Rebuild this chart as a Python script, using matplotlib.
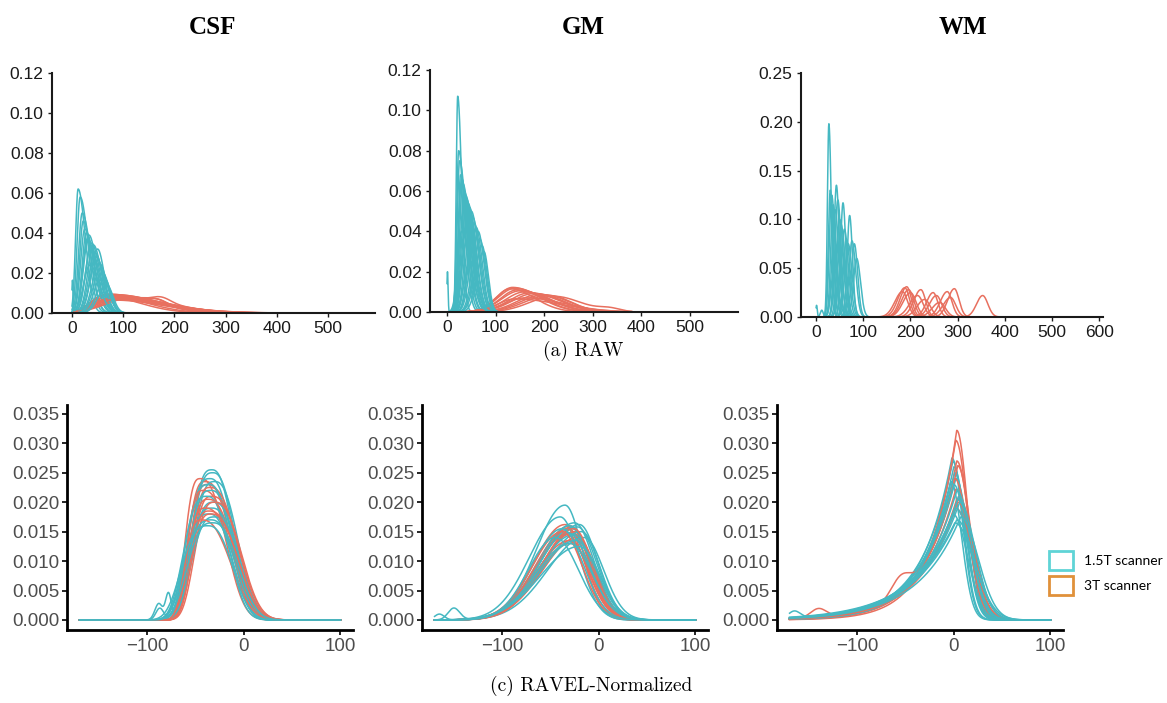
import numpy as np
import matplotlib
matplotlib.use("Agg")
import matplotlib.pyplot as plt
from matplotlib.patches import Patch
from matplotlib.ticker import FormatStrFormatter

# colours of the two scanner groups
c15 = "#45B8C2"
c3 = "#E8705F"

# ---- values: one entry per density curve ----
# peak position (mu), peak height (h), left / right spread (sl, sr)
# extra small bumps: curve index (bi), position (bx), height (bh), width (bw)

# (a) RAW, CSF
csf_raw_c_mu = [12, 16, 20, 22, 25, 28, 30, 33, 36, 38, 42, 45, 48, 50, 53, 56, 60, 64, 68, 35]
csf_raw_c_h = [0.062, 0.058, 0.050, 0.046, 0.042, 0.040, 0.037, 0.039, 0.033, 0.035,
               0.034, 0.030, 0.028, 0.032, 0.025, 0.022, 0.020, 0.017, 0.014, 0.024]
csf_raw_c_sl = [5, 6, 7, 7, 8, 8, 9, 10, 10, 11, 11, 12, 12, 13, 13, 14, 15, 15, 16, 12]
csf_raw_c_sr = [14, 15, 16, 15, 17, 16, 18, 15, 17, 16, 15, 16, 14, 13, 15, 14, 13, 12, 12, 18]
csf_raw_c_bi, csf_raw_c_bx, csf_raw_c_bh, csf_raw_c_bw = [19], [1], [0.016], [1.2]

csf_raw_s_mu = [60, 65, 70, 75, 80, 85, 90, 95, 100, 70, 80, 90, 110, 75]
csf_raw_s_h = [0.0085, 0.009, 0.0095, 0.0088, 0.0092, 0.0085, 0.009, 0.0082, 0.0078,
               0.007, 0.0075, 0.0068, 0.0072, 0.0065]
csf_raw_s_sl = [25, 28, 30, 32, 35, 35, 38, 40, 40, 30, 32, 35, 45, 30]
csf_raw_s_sr = [70, 75, 80, 85, 90, 80, 75, 85, 90, 95, 100, 100, 85, 110]
csf_raw_s_bi, csf_raw_s_bx, csf_raw_s_bh, csf_raw_s_bw = [2, 5, 8], [170, 165, 175], [0.0025, 0.002, 0.0025], [18, 20, 18]

# (a) RAW, GM
gm_raw_c_mu = [22, 24, 26, 28, 30, 32, 35, 38, 40, 43, 46, 50, 53, 56, 60, 64, 68, 72, 76, 30, 40, 48]
gm_raw_c_h = [0.107, 0.080, 0.075, 0.068, 0.066, 0.064, 0.060, 0.058, 0.056, 0.054, 0.052,
              0.050, 0.047, 0.044, 0.042, 0.040, 0.036, 0.033, 0.030, 0.040, 0.035, 0.025]
gm_raw_c_sl = [3, 4, 5, 5, 6, 6, 7, 8, 8, 9, 9, 10, 10, 11, 12, 12, 13, 14, 14, 8, 10, 12]
gm_raw_c_sr = [8, 12, 13, 14, 14, 15, 15, 15, 15, 15, 14, 14, 13, 13, 12, 12, 11, 10, 9, 18, 16, 14]
gm_raw_c_bi, gm_raw_c_bx, gm_raw_c_bh, gm_raw_c_bw = [21], [1], [0.020], [1.2]

gm_raw_s_mu = [130, 135, 140, 145, 150, 160, 170, 180, 190, 200, 210, 220, 160, 140]
gm_raw_s_h = [0.0115, 0.0122, 0.0118, 0.011, 0.0105, 0.010, 0.0095, 0.0092, 0.0088,
              0.0085, 0.0082, 0.0078, 0.007, 0.0065]
gm_raw_s_sl = [30, 32, 35, 35, 38, 40, 42, 45, 45, 48, 50, 50, 40, 35]
gm_raw_s_sr = [50, 55, 55, 60, 60, 55, 60, 55, 50, 50, 45, 55, 80, 90]
gm_raw_s_bi, gm_raw_s_bx, gm_raw_s_bh, gm_raw_s_bw = [11], [335], [0.0015], [22]

# (a) RAW, WM
wm_raw_c_mu = [27, 30, 33, 36, 40, 43, 46, 50, 53, 57, 60, 64, 68, 71, 76, 81, 86, 45, 55, 38]
wm_raw_c_h = [0.198, 0.13, 0.125, 0.115, 0.11, 0.135, 0.12, 0.10, 0.095, 0.117, 0.09,
              0.08, 0.075, 0.104, 0.078, 0.075, 0.06, 0.07, 0.065, 0.05]
wm_raw_c_sl = [3, 4, 5, 5, 6, 5, 6, 6, 6, 5, 6, 6, 7, 5, 6, 6, 7, 6, 7, 6]
wm_raw_c_sr = [5, 6, 7, 7, 8, 6, 7, 8, 8, 6, 8, 8, 8, 6, 8, 7, 8, 9, 9, 9]
wm_raw_c_bi, wm_raw_c_bx, wm_raw_c_bh, wm_raw_c_bw = [19, 18], [1, 12], [0.012, 0.007], [1.5, 3]

wm_raw_s_mu = [183, 188, 192, 196, 200, 215, 222, 230, 248, 255, 262, 278, 285, 293, 353]
wm_raw_s_h = [0.026, 0.030, 0.031, 0.028, 0.025, 0.022, 0.028, 0.018, 0.025, 0.022,
              0.015, 0.026, 0.020, 0.029, 0.022]
wm_raw_s_sl = [16, 15, 14, 15, 16, 17, 15, 16, 14, 15, 16, 15, 16, 14, 13]
wm_raw_s_sr = [11, 10, 10, 11, 12, 12, 10, 12, 10, 11, 12, 10, 11, 10, 11]
wm_raw_s_bi, wm_raw_s_bx, wm_raw_s_bh, wm_raw_s_bw = [], [], [], []

# (c) RAVEL-Normalized, CSF
csf_rv_c_mu = [-33, -32, -35, -30, -36, -34, -38, -31, -33, -36, -30, -34, -32, -37]
csf_rv_c_h = [0.0255, 0.025, 0.024, 0.0235, 0.023, 0.022, 0.021, 0.020, 0.019, 0.018,
              0.0175, 0.017, 0.0165, 0.016]
csf_rv_c_sl = [20, 21, 22, 21, 23, 22, 23, 22, 23, 24, 23, 25, 25, 26]
csf_rv_c_sr = [21, 22, 22, 23, 22, 23, 22, 24, 24, 23, 25, 24, 25, 24]
csf_rv_c_bi, csf_rv_c_bx, csf_rv_c_bh, csf_rv_c_bw = [3, 3, 5], [-88, -78, -87], [0.0028, 0.0045, 0.002], [4, 3, 4]

csf_rv_s_mu = [-45, -40, -38, -35, -42, -33, -37, -30, -40, -36, -34, -44]
csf_rv_s_h = [0.024, 0.0235, 0.023, 0.0225, 0.022, 0.021, 0.0205, 0.020, 0.019, 0.0185, 0.018, 0.017]
csf_rv_s_sl = [15, 17, 17, 18, 16, 19, 18, 20, 17, 18, 19, 16]
csf_rv_s_sr = [25, 26, 27, 27, 27, 27, 26, 26, 28, 28, 27, 29]
csf_rv_s_bi, csf_rv_s_bx, csf_rv_s_bh, csf_rv_s_bw = [], [], [], []

# (c) RAVEL-Normalized, GM
gm_rv_c_mu = [-35, -40, -25, -20, -30, -22, -28, -18, -32, -26, -15, -38, -24, -30, -20, -45]
gm_rv_c_h = [0.0195, 0.0175, 0.0165, 0.0162, 0.016, 0.0158, 0.0155, 0.015, 0.0148,
             0.0145, 0.014, 0.0155, 0.0135, 0.013, 0.0125, 0.014]
gm_rv_c_sl = [30, 32, 35, 36, 33, 35, 34, 38, 32, 36, 38, 30, 37, 35, 40, 28]
gm_rv_c_sr = [18, 20, 20, 19, 21, 20, 22, 19, 23, 21, 20, 22, 22, 23, 21, 24]
gm_rv_c_bi, gm_rv_c_bx, gm_rv_c_bh, gm_rv_c_bw = [4, 9], [-165, -150], [0.001, 0.002], [5, 6]

gm_rv_s_mu = [-35, -30, -28, -32, -25, -27, -33, -22, -30, -29, -26, -38]
gm_rv_s_h = [0.0162, 0.016, 0.0158, 0.0155, 0.015, 0.0148, 0.0145, 0.014, 0.0135, 0.013, 0.0155, 0.015]
gm_rv_s_sl = [32, 33, 34, 33, 35, 34, 33, 36, 35, 34, 33, 31]
gm_rv_s_sr = [20, 20, 19, 21, 19, 20, 21, 19, 20, 21, 20, 21]
gm_rv_s_bi, gm_rv_s_bx, gm_rv_s_bh, gm_rv_s_bw = [], [], [], []

# (c) RAVEL-Normalized, WM
wm_rv_c_mu = [-2, -1, 0, 1, 2, -3, 0, 3, 5, 4, 6, 2, -1, 7, 3, 1]
wm_rv_c_h = [0.0275, 0.027, 0.026, 0.025, 0.024, 0.0235, 0.023, 0.022, 0.021, 0.0205,
             0.020, 0.019, 0.018, 0.0175, 0.017, 0.0165]
wm_rv_c_sl = [16, 17, 17, 18, 18, 16, 19, 19, 20, 20, 21, 21, 22, 22, 23, 24]
wm_rv_c_sr = [11, 11, 12, 12, 13, 11, 13, 14, 14, 15, 16, 16, 15, 18, 18, 20]
wm_rv_c_bi, wm_rv_c_bx, wm_rv_c_bh, wm_rv_c_bw = [10], [-165], [0.0012], [6]

wm_rv_s_mu = [3, 2, 3, 4, 1, 2, 5, 3, 4, 2]
wm_rv_s_h = [0.0322, 0.0305, 0.027, 0.0262, 0.024, 0.0222, 0.021, 0.0205, 0.020, 0.019]
wm_rv_s_sl = [14, 15, 16, 17, 17, 18, 19, 19, 20, 20]
wm_rv_s_sr = [11, 12, 13, 13, 14, 15, 15, 16, 17, 17]
wm_rv_s_bi, wm_rv_s_bx, wm_rv_s_bh, wm_rv_s_bw = [4, 6], [-55, -140], [0.003, 0.0015], [10, 8]

titles = ["CSF", "GM", "WM"]
raw_xticks = [[0, 100, 200, 300, 400, 500], [0, 100, 200, 300, 400, 500],
              [0, 100, 200, 300, 400, 500, 600]]
raw_yticks = [[0, 0.02, 0.04, 0.06, 0.08, 0.10, 0.12], [0, 0.02, 0.04, 0.06, 0.08, 0.10, 0.12],
              [0, 0.05, 0.10, 0.15, 0.20, 0.25]]
rv_xticks = [-100, 0, 100]
rv_yticks = [0, 0.005, 0.010, 0.015, 0.020, 0.025, 0.030, 0.035]
legend_labels = ["1.5T scanner", "3T scanner"]
legend_colors = ["#5FD4D6", "#E0913A"]


def density(x, mu, h, sl, sr, pl, pr):
    d = x - mu
    z = np.where(d < 0, (np.abs(d) / sl) ** pl, (np.abs(d) / sr) ** pr)
    return h * np.exp(-0.5 * z)


def make_curves(x, mu, h, sl, sr, bi, bx, bh, bw, pl, pr):
    curves = [density(x, *p, pl, pr) for p in zip(mu, h, sl, sr)]
    for i, m, hh, w in zip(bi, bx, bh, bw):
        curves[i] = curves[i] + hh * np.exp(-0.5 * ((x - m) / w) ** 2)
    return curves


def draw_panel(ax, xc, cyan, xs, salmon):
    for i in range(max(len(cyan), len(salmon))):
        if i < len(cyan):
            ax.plot(xc, cyan[i], color=c15, lw=1.1)
        if i < len(salmon):
            ax.plot(xs, salmon[i], color=c3, lw=1.1)


fig = plt.figure(figsize=(11.67, 7.03), dpi=100)
W, H = 1167, 703


def add_axes(l, t, r, b):
    return fig.add_axes([l / W, 1 - b / H, (r - l) / W, (b - t) / H])


# ---- top row: RAW ----
raw_boxes = [(52, 73, 375, 313), (430, 70, 738, 312), (801, 73, 1103, 317)]
raw_xlims = [(-39, 592), (-35, 599), (-32, 608)]
raw_ylims = [(0, 0.12), (0, 0.12), (0, 0.25)]
title_x = [213, 583, 963]

xc = np.linspace(0, 110, 600)
xs = np.linspace(5, 380, 800)
xs_wm = np.linspace(25, 400, 800)
raw_data = [
    (make_curves(xc, csf_raw_c_mu, csf_raw_c_h, csf_raw_c_sl, csf_raw_c_sr,
                 csf_raw_c_bi, csf_raw_c_bx, csf_raw_c_bh, csf_raw_c_bw, 2, 2),
     make_curves(xs, csf_raw_s_mu, csf_raw_s_h, csf_raw_s_sl, csf_raw_s_sr,
                 csf_raw_s_bi, csf_raw_s_bx, csf_raw_s_bh, csf_raw_s_bw, 2, 2), xs),
    (make_curves(xc, gm_raw_c_mu, gm_raw_c_h, gm_raw_c_sl, gm_raw_c_sr,
                 gm_raw_c_bi, gm_raw_c_bx, gm_raw_c_bh, gm_raw_c_bw, 2, 2),
     make_curves(xs, gm_raw_s_mu, gm_raw_s_h, gm_raw_s_sl, gm_raw_s_sr,
                 gm_raw_s_bi, gm_raw_s_bx, gm_raw_s_bh, gm_raw_s_bw, 2, 2), xs),
    (make_curves(xc, wm_raw_c_mu, wm_raw_c_h, wm_raw_c_sl, wm_raw_c_sr,
                 wm_raw_c_bi, wm_raw_c_bx, wm_raw_c_bh, wm_raw_c_bw, 2, 2),
     make_curves(xs_wm, wm_raw_s_mu, wm_raw_s_h, wm_raw_s_sl, wm_raw_s_sr,
                 wm_raw_s_bi, wm_raw_s_bx, wm_raw_s_bh, wm_raw_s_bw, 2, 2), xs_wm),
]

for k in range(3):
    ax = add_axes(*raw_boxes[k])
    cyan, salmon, xsk = raw_data[k]
    draw_panel(ax, xc, cyan, xsk, salmon)
    ax.set_xlim(*raw_xlims[k])
    ax.set_ylim(*raw_ylims[k])
    ax.set_xticks(raw_xticks[k])
    ax.set_yticks(raw_yticks[k])
    ax.yaxis.set_major_formatter(FormatStrFormatter("%.2f"))
    for s in ["top", "right"]:
        ax.spines[s].set_visible(False)
    for s in ["left", "bottom"]:
        ax.spines[s].set_linewidth(1.5)
        ax.spines[s].set_color("#1a1a1a")
    ax.tick_params(length=3, width=1, color="#1a1a1a", labelsize=12.5,
                   labelcolor="#1a1a1a", pad=3)
    for lab in ax.get_xticklabels() + ax.get_yticklabels():
        lab.set_family("Liberation Sans")
    fig.text(title_x[k] / W, 1 - 27 / H, titles[k], ha="center", va="center",
             fontsize=18, fontweight="bold", family="Liberation Serif")

# ---- bottom row: RAVEL-Normalized ----
rv_boxes = [(67, 405, 353, 630), (422, 405, 708, 630), (777, 405, 1063, 630)]
xr = np.linspace(-170, 100, 1200)
rv_data = [
    (make_curves(xr, csf_rv_c_mu, csf_rv_c_h, csf_rv_c_sl, csf_rv_c_sr,
                 csf_rv_c_bi, csf_rv_c_bx, csf_rv_c_bh, csf_rv_c_bw, 3, 2.5),
     make_curves(xr, csf_rv_s_mu, csf_rv_s_h, csf_rv_s_sl, csf_rv_s_sr,
                 csf_rv_s_bi, csf_rv_s_bx, csf_rv_s_bh, csf_rv_s_bw, 3, 2.5)),
    (make_curves(xr, gm_rv_c_mu, gm_rv_c_h, gm_rv_c_sl, gm_rv_c_sr,
                 gm_rv_c_bi, gm_rv_c_bx, gm_rv_c_bh, gm_rv_c_bw, 2, 2),
     make_curves(xr, gm_rv_s_mu, gm_rv_s_h, gm_rv_s_sl, gm_rv_s_sr,
                 gm_rv_s_bi, gm_rv_s_bx, gm_rv_s_bh, gm_rv_s_bw, 2, 2)),
    (make_curves(xr, wm_rv_c_mu, wm_rv_c_h, wm_rv_c_sl, wm_rv_c_sr,
                 wm_rv_c_bi, wm_rv_c_bx, wm_rv_c_bh, wm_rv_c_bw, 1, 2),
     make_curves(xr, wm_rv_s_mu, wm_rv_s_h, wm_rv_s_sl, wm_rv_s_sr,
                 wm_rv_s_bi, wm_rv_s_bx, wm_rv_s_bh, wm_rv_s_bw, 1, 2)),
]

for k in range(3):
    ax = add_axes(*rv_boxes[k])
    cyan, salmon = rv_data[k]
    draw_panel(ax, xr, cyan, xr, salmon)
    ax.set_xlim(-183, 113)
    ax.set_ylim(-0.0017, 0.0365)
    ax.set_xticks(rv_xticks)
    ax.set_yticks(rv_yticks)
    ax.yaxis.set_major_formatter(FormatStrFormatter("%.3f"))
    for s in ["top", "right"]:
        ax.spines[s].set_visible(False)
    for s in ["left", "bottom"]:
        ax.spines[s].set_linewidth(2)
        ax.spines[s].set_color("black")
    ax.tick_params(length=3.5, width=1.2, color="black", labelsize=13.5,
                   labelcolor="#4d4d4d", pad=2)
    for lab in ax.get_xticklabels() + ax.get_yticklabels():
        lab.set_family("Liberation Sans")

# captions
fig.text(583 / W, 1 - 351 / H, "(a) RAW", ha="center", va="center",
         fontsize=14, family="cmr10")
fig.text(591 / W, 1 - 686 / H, "(c) RAVEL-Normalized", ha="center", va="center",
         fontsize=14, family="cmr10")

# legend
handles = [Patch(facecolor="white", edgecolor=c, lw=2) for c in legend_colors]
fig.legend(handles, legend_labels, loc="center left", bbox_to_anchor=(1036 / W, 1 - 573 / H),
           frameon=False, handlelength=1.75, handleheight=1.7, labelspacing=0.45,
           handletextpad=0.8, prop={"family": "Lato", "size": 10})

fig.savefig("out.png", dpi=100)
